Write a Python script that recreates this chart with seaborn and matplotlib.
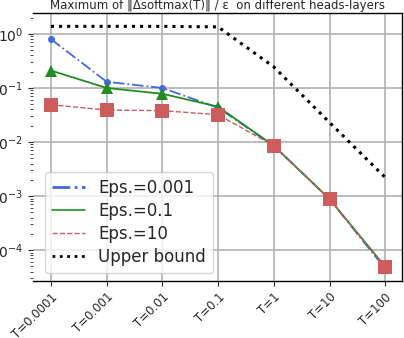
import numpy as np
import pandas as pd
import matplotlib
matplotlib.use("Agg")
import matplotlib.pyplot as plt
import seaborn as sns
from matplotlib.lines import Line2D

# ------------------------------------------------------------------
# dados
# ------------------------------------------------------------------
temperaturas = ["T=0.0001", "T=0.001", "T=0.01", "T=0.1", "T=1", "T=10", "T=100"]

eps_0001 = [0.80, 0.13, 0.10, 0.043, 0.0085, 0.00088, 0.000045]
eps_01 = [0.21, 0.10, 0.078, 0.045, 0.0085, 0.00088, 0.000049]
eps_10 = [0.049, 0.039, 0.038, 0.032, 0.0085, 0.00088, 0.000049]
limite_superior = [1.38, 1.38, 1.38, 1.35, 0.245, 0.023, 0.0022]

rotulos = ["Eps.=0.001", "Eps.=0.1", "Eps.=10", "Upper bound"]

sns.set_style("ticks")

fig = plt.figure(figsize=(4.04, 3.38), dpi=100)
ax = fig.add_axes([0.082, 0.169, 0.913, 0.793])

df = pd.DataFrame({
    "T": temperaturas,
    "ub": limite_superior,
    "e1": eps_0001,
    "e2": eps_01,
    "e3": eps_10,
})

sns.lineplot(data=df, x="T", y="ub", ax=ax, color="black", linestyle=":",
             linewidth=2.2, sort=False)
sns.lineplot(data=df, x="T", y="e1", ax=ax, color="royalblue", linestyle="-.",
             linewidth=1.3, marker="o", markersize=5, markeredgewidth=0, sort=False)
sns.lineplot(data=df, x="T", y="e2", ax=ax, color="forestgreen", linestyle="-",
             linewidth=1.3, marker="^", markersize=9, markeredgewidth=0, sort=False)
sns.lineplot(data=df, x="T", y="e3", ax=ax, color="indianred", linestyle="--",
             linewidth=1.0, marker="s", markersize=10, markeredgewidth=0, sort=False)

ax.set_yscale("log")
ax.set_ylim(10 ** -4.57, 10 ** 0.39)
ax.set_xlim(-0.32, 6.3)
ax.set_xlabel("")
ax.set_ylabel("")

ax.grid(True, which="major", color="#b0b0b0", linewidth=1.2)
ax.set_axisbelow(True)
for lado in ["top", "right", "bottom"]:
    ax.spines[lado].set_color("black")
    ax.spines[lado].set_linewidth(1.0)
ax.spines["left"].set_visible(False)

ax.tick_params(axis="y", labelsize=10, length=3.5)
ax.tick_params(axis="y", which="minor", length=2)
ax.tick_params(axis="x", labelsize=8.5, length=3.5)
plt.setp(ax.get_xticklabels(), rotation=45, ha="right", rotation_mode="anchor")

ax.set_title("Maximum of \u2016\u0394softmax(T)\u2016 / \u03b5  on different heads-layers",
             fontsize=8.5, pad=3)

# legenda sem marcadores
handles = [
    Line2D([], [], color="royalblue", linestyle="-.", linewidth=2.0),
    Line2D([], [], color="forestgreen", linestyle="-", linewidth=1.2),
    Line2D([], [], color="indianred", linestyle="--", linewidth=1.0),
    Line2D([], [], color="black", linestyle=":", linewidth=2.0),
]
ax.legend(handles, rotulos, loc="lower left", fontsize=12, frameon=True,
          handlelength=2.0, borderpad=0.4, labelspacing=0.3,
          bbox_to_anchor=(0.01, 0.0))

fig.savefig("out.png", dpi=100)
